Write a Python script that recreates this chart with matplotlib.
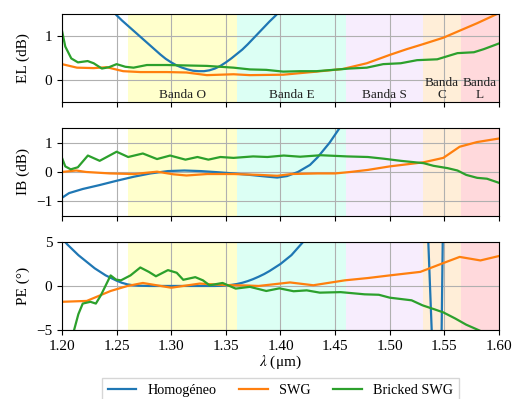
import numpy as np
import matplotlib
matplotlib.use("Agg")
import matplotlib.pyplot as plt

plt.rcParams['font.family'] = ['Liberation Serif', 'DejaVu Serif']
plt.rcParams['mathtext.fontset'] = 'stix'
plt.rcParams['font.size'] = 11

# --- EL (dB) ---
el_hom_x = [1.245, 1.25, 1.255, 1.26, 1.265, 1.27, 1.275, 1.28, 1.285, 1.29, 1.295, 1.30,
            1.305, 1.31, 1.315, 1.32, 1.325, 1.33, 1.335, 1.34, 1.345, 1.35, 1.355, 1.36,
            1.365, 1.37, 1.375, 1.38, 1.385, 1.39, 1.395, 1.40]
el_hom_y = [1.60, 1.47, 1.35, 1.24, 1.13, 1.02, 0.91, 0.80, 0.69, 0.58, 0.48, 0.40,
            0.33, 0.28, 0.24, 0.21, 0.20, 0.20, 0.22, 0.26, 0.32, 0.40, 0.49, 0.59,
            0.69, 0.81, 0.94, 1.07, 1.20, 1.33, 1.45, 1.58]
el_swg_x = [1.20, 1.2137, 1.229, 1.241, 1.256, 1.2717, 1.296, 1.314, 1.3326, 1.357, 1.372, 1.4025,
            1.433, 1.457, 1.479, 1.50, 1.5155, 1.53, 1.549, 1.564, 1.58, 1.60]
el_swg_y = [0.36, 0.28, 0.27, 0.29, 0.20, 0.18, 0.18, 0.17, 0.11, 0.13, 0.11, 0.12,
            0.19, 0.25, 0.38, 0.57, 0.70, 0.81, 0.96, 1.12, 1.29, 1.52]
el_bsw_x = [1.20, 1.203, 1.2085, 1.2146, 1.2235, 1.229, 1.2365, 1.243, 1.25, 1.258, 1.2655, 1.2777,
            1.296, 1.314, 1.3326, 1.357, 1.372, 1.387, 1.4025, 1.418, 1.433, 1.448, 1.463, 1.479,
            1.494, 1.51, 1.525, 1.5435, 1.562, 1.577, 1.586, 1.60]
el_bsw_y = [1.12, 0.76, 0.49, 0.40, 0.43, 0.38, 0.26, 0.29, 0.36, 0.30, 0.28, 0.34,
            0.34, 0.33, 0.32, 0.28, 0.24, 0.23, 0.19, 0.20, 0.20, 0.23, 0.26, 0.28,
            0.36, 0.38, 0.45, 0.47, 0.61, 0.63, 0.70, 0.83]

# --- IB (dB) ---
ib_hom_x = [1.20, 1.2065, 1.219, 1.234, 1.25, 1.266, 1.281, 1.297, 1.312, 1.327, 1.343, 1.357,
            1.372, 1.388, 1.397, 1.406, 1.416, 1.427, 1.434, 1.445, 1.4545, 1.46]
ib_hom_y = [-0.88, -0.72, -0.58, -0.45, -0.30, -0.16, -0.05, 0.03, 0.05, 0.03, -0.01, -0.05,
            -0.10, -0.16, -0.19, -0.14, 0.00, 0.24, 0.50, 1.00, 1.52, 1.80]
ib_swg_x = [1.20, 1.213, 1.222, 1.244, 1.266, 1.287, 1.302, 1.314, 1.333, 1.357, 1.381, 1.397,
            1.41, 1.434, 1.45, 1.464, 1.48, 1.50, 1.531, 1.549, 1.564, 1.58, 1.60]
ib_swg_y = [0.00, 0.05, 0.00, -0.05, -0.07, 0.01, -0.08, -0.12, -0.07, -0.07, -0.10, -0.13,
            -0.07, -0.05, -0.05, 0.00, 0.07, 0.19, 0.33, 0.48, 0.86, 1.02, 1.14]
ib_bsw_x = [1.20, 1.203, 1.208, 1.2145, 1.2237, 1.2345, 1.25, 1.2606, 1.274, 1.287, 1.299, 1.313,
            1.324, 1.334, 1.345, 1.357, 1.375, 1.388, 1.403, 1.418, 1.437, 1.461, 1.48, 1.495,
            1.51, 1.531, 1.54, 1.553, 1.562, 1.57, 1.58, 1.589, 1.60]
ib_bsw_y = [0.48, 0.19, 0.09, 0.16, 0.56, 0.38, 0.69, 0.51, 0.63, 0.44, 0.56, 0.42,
            0.51, 0.42, 0.51, 0.48, 0.53, 0.51, 0.56, 0.52, 0.57, 0.53, 0.51, 0.45,
            0.38, 0.30, 0.21, 0.13, 0.05, -0.10, -0.20, -0.23, -0.37]

# --- PE (deg) ---
pe_hom_x = [1.20, 1.205, 1.21, 1.215, 1.22, 1.225, 1.23, 1.235, 1.24, 1.245, 1.25, 1.255,
            1.26, 1.265, 1.27, 1.28, 1.34, 1.345, 1.35, 1.355, 1.36, 1.365, 1.37, 1.375,
            1.38, 1.385, 1.39, 1.395, 1.40, 1.405, 1.41, 1.415, 1.42, 1.425, 1.48, 1.53,
            1.5353, 1.5384, 1.543, 1.5475, 1.5485, 1.555, 1.60]
pe_hom_y = [5.4, 4.7, 4.1, 3.5, 3.0, 2.5, 2.0, 1.6, 1.2, 0.9, 0.6, 0.35,
            0.18, 0.08, 0.03, 0.0, 0.0, 0.02, 0.06, 0.12, 0.22, 0.36, 0.55, 0.78,
            1.05, 1.35, 1.7, 2.1, 2.5, 3.0, 3.5, 4.2, 4.9, 5.6, 30.0, 25.0,
            5.0, -5.0, -15.0, -5.0, 5.0, 25.0, 40.0]
pe_swg_x = [1.20, 1.2227, 1.2445, 1.26, 1.274, 1.30, 1.326, 1.35, 1.37, 1.38, 1.4087, 1.43,
            1.459, 1.48, 1.50, 1.528, 1.549, 1.564, 1.583, 1.60]
pe_swg_y = [-1.8, -1.7, -0.57, 0.0, 0.34, -0.2, 0.27, 0.1, 0.05, 0.0, 0.4, 0.08,
            0.64, 0.9, 1.2, 1.6, 2.6, 3.3, 2.9, 3.4]
pe_bsw_x = [1.20, 1.205, 1.21, 1.215, 1.219, 1.226, 1.231, 1.2356, 1.2445, 1.2495, 1.254, 1.2627,
            1.2717, 1.2795, 1.286, 1.297, 1.305, 1.311, 1.322, 1.329, 1.335, 1.347, 1.359, 1.372,
            1.387, 1.399, 1.412, 1.424, 1.436, 1.455, 1.477, 1.49, 1.50, 1.52, 1.53, 1.542,
            1.549, 1.56, 1.57, 1.581, 1.59, 1.60]
pe_bsw_y = [-12.0, -9.0, -5.5, -3.2, -2.0, -1.8, -2.0, -1.06, 1.2, 0.72, 0.64, 1.2,
            2.1, 1.6, 1.1, 1.8, 1.5, 0.7, 1.0, 0.64, 0.08, 0.34, -0.3, -0.1,
            -0.57, -0.27, -0.6, -0.5, -0.76, -0.7, -0.95, -1.0, -1.33, -1.63, -2.2, -2.7,
            -3.0, -3.7, -4.4, -5.0, -5.5, -6.0]

bands = ['Banda O', 'Banda E', 'Banda S', 'Banda\nC', 'Banda\nL']
band_lo = [1.26, 1.36, 1.46, 1.53, 1.565]
band_hi = [1.36, 1.46, 1.53, 1.565, 1.625]
band_col = ['#ffffcc', '#dcfff4', '#f7edfd', '#ffeed8', '#ffd9dc']

fig, axs = plt.subplots(3, 1, figsize=(5.14, 3.99), dpi=100, sharex=True)
fig.subplots_adjust(left=0.1206, right=0.9708, top=0.965, bottom=0.173, hspace=0.295)

data = [
    (el_hom_x, el_hom_y, el_swg_x, el_swg_y, el_bsw_x, el_bsw_y),
    (ib_hom_x, ib_hom_y, ib_swg_x, ib_swg_y, ib_bsw_x, ib_bsw_y),
    (pe_hom_x, pe_hom_y, pe_swg_x, pe_swg_y, pe_bsw_x, pe_bsw_y),
]
ylabels = ['EL (dB)', 'IB (dB)', 'PE (°)']
ylims = [(-0.5, 1.5), (-1.5, 1.5), (-5, 5)]
yticks = [[0, 1], [-1, 0, 1], [-5, 0, 5]]

for ax, d, yl, lim, yt in zip(axs, data, ylabels, ylims, yticks):
    for lo, hi, c in zip(band_lo, band_hi, band_col):
        ax.axvspan(lo, hi, color=c, lw=0, zorder=0)
    ax.plot(d[0], d[1], color='C0', lw=1.6, label='Homogéneo')
    ax.plot(d[2], d[3], color='C1', lw=1.6, label='SWG')
    ax.plot(d[4], d[5], color='C2', lw=1.6, label='Bricked SWG')
    ax.set_ylim(lim)
    ax.set_yticks(yt)
    ax.set_ylabel(yl)
    ax.grid(True, color='#b0b0b0', lw=0.8)
    ax.set_axisbelow(True)

fig.align_ylabels(axs)

axs[0].set_xlim(1.20, 1.60)
axs[2].set_xticks(np.arange(1.20, 1.601, 0.05))
axs[2].xaxis.set_major_formatter(matplotlib.ticker.FormatStrFormatter('%.2f'))
axs[2].set_xlabel(r'$\lambda$ (μm)', labelpad=1)

band_mid = [1.31, 1.41, 1.495, 1.5475, 1.5825]
for name, xm in zip(bands, band_mid):
    axs[0].text(xm, -0.47, name, ha='center', va='bottom', fontsize=9.5,
                linespacing=1.0, color='#222222')

axs[2].legend(loc='upper center', bbox_to_anchor=(0.5, -0.47), ncol=3,
              frameon=True, fancybox=False, edgecolor='#cccccc', fontsize=10.2,
              handlelength=2.0, columnspacing=1.6)

fig.savefig('out.png', dpi=100)
